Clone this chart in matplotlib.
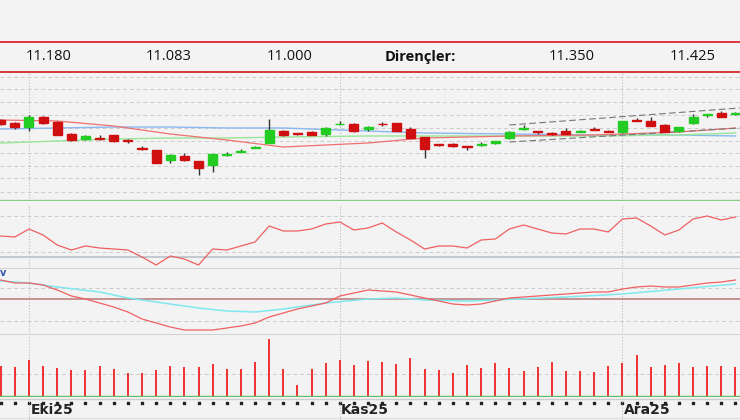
import matplotlib.pyplot as plt
from matplotlib.patches import Rectangle

# candle data (open, close, high, low)
opens = [11.30, 11.27, 11.23, 11.33, 11.28, 11.16, 11.11, 11.12, 11.15, 11.095, 11.015, 11.00, 10.90, 10.94, 10.89, 10.85, 10.955, 10.985,
         11.025, 11.07, 11.19, 11.165, 11.18, 11.16, 11.255, 11.26, 11.21, 11.26, 11.27, 11.21, 11.13, 11.055, 11.06, 11.035, 11.055, 11.07,
         11.12, 11.215, 11.19, 11.17, 11.19, 11.185, 11.21, 11.19, 11.18, 11.30, 11.29, 11.25, 11.19, 11.27, 11.35, 11.37, 11.36]
closes = [11.26, 11.23, 11.33, 11.27, 11.15, 11.10, 11.14, 11.11, 11.09, 11.09, 11.01, 10.87, 10.95, 10.90, 10.82, 10.96, 10.96, 10.99,
          11.03, 11.20, 11.15, 11.16, 11.15, 11.22, 11.26, 11.19, 11.225, 11.255, 11.19, 11.12, 11.01, 11.05, 11.04, 11.03, 11.06, 11.085,
          11.18, 11.22, 11.185, 11.165, 11.16, 11.19, 11.205, 11.185, 11.29, 11.295, 11.24, 11.18, 11.23, 11.33, 11.355, 11.33, 11.365]
highs = [11.31, 11.28, 11.35, 11.34, 11.29, 11.17, 11.15, 11.15, 11.15, 11.11, 11.04, 11.00, 10.96, 10.97, 10.89, 10.96, 10.98, 11.01,
         11.04, 11.31, 11.20, 11.17, 11.19, 11.23, 11.29, 11.27, 11.24, 11.28, 11.27, 11.23, 11.13, 11.06, 11.07, 11.04, 11.08, 11.09,
         11.19, 11.25, 11.19, 11.18, 11.22, 11.20, 11.23, 11.20, 11.29, 11.32, 11.33, 11.26, 11.23, 11.36, 11.36, 11.39, 11.38]
lows = [11.25, 11.21, 11.19, 11.26, 11.15, 11.09, 11.10, 11.10, 11.08, 11.07, 11.00, 10.87, 10.87, 10.89, 10.75, 10.78, 10.94, 10.98,
        11.02, 11.07, 11.14, 11.15, 11.15, 11.14, 11.25, 11.18, 11.19, 11.24, 11.19, 11.12, 10.92, 11.04, 11.03, 11.00, 11.04, 11.06,
        11.11, 11.20, 11.16, 11.15, 11.16, 11.18, 11.20, 11.18, 11.17, 11.29, 11.24, 11.18, 11.18, 11.26, 11.33, 11.33, 11.35]

# moving averages, sampled at candle indices
ma_idx = [0, 4, 8, 12, 16, 20, 26, 30, 36, 42, 48, 52]
ma_red = [11.30, 11.29, 11.24, 11.16, 11.10, 11.03, 11.07, 11.12, 11.14, 11.15, 11.18, 11.22]
ma_blue = [11.21, 11.22, 11.23, 11.23, 11.22, 11.22, 11.19, 11.17, 11.16, 11.15, 11.15, 11.14]
ma_green = [11.07, 11.09, 11.11, 11.12, 11.12, 11.13, 11.14, 11.14, 11.14, 11.14, 11.15, 11.17]

# trend channel (start index, end index, start price, end price)
channel = [(36, 52.3, 11.25, 11.42), (36, 52.3, 11.08, 11.22)]

rsi = [60, 59, 67, 61, 51, 46, 50, 48, 47, 46, 39, 31, 40, 37, 31, 47, 46, 50, 54, 70, 65, 65, 67, 72, 74, 66, 68, 73, 64, 56,
       47, 50, 50, 48, 56, 57, 67, 71, 67, 63, 62, 67, 67, 64, 77, 78, 70, 61, 66, 77, 80, 76, 79]
macd = [0.19, 0.16, 0.16, 0.14, 0.09, 0.03, 0.00, -0.04, -0.08, -0.13, -0.20, -0.24, -0.28, -0.31, -0.31, -0.31, -0.29, -0.27,
        -0.24, -0.18, -0.14, -0.10, -0.07, -0.04, 0.03, 0.06, 0.09, 0.08, 0.07, 0.04, 0.01, -0.02, -0.05, -0.06, -0.05, -0.02, 0.01,
        0.02, 0.03, 0.04, 0.05, 0.06, 0.07, 0.07, 0.10, 0.12, 0.13, 0.12, 0.12, 0.14, 0.16, 0.17, 0.19]
sig_idx = [0, 2, 4, 7, 9, 12, 14, 16, 18, 20, 23, 26, 28, 30, 33, 35, 40, 44, 48, 52]
signal = [0.18, 0.16, 0.12, 0.07, 0.01, -0.05, -0.09, -0.12, -0.13, -0.10, -0.04, 0.00, 0.01, -0.01, -0.02, -0.01, 0.02, 0.05, 0.10, 0.15]
volume = [30, 29, 36, 30, 28, 26, 26, 30, 27, 23, 23, 26, 30, 29, 29, 32, 27, 27, 34, 57, 27, 11, 27, 33, 36, 31, 35, 34, 32, 38,
          27, 26, 23, 31, 28, 33, 28, 25, 29, 34, 25, 25, 24, 30, 33, 41, 29, 31, 33, 29, 30, 30, 29]
month_idx = [2, 24, 44]
month_labels = ["Eki25", "Kas25", "Ara25"]
levels = ["11.180", "11.083", "11.000", "Dirençler:", "11.350", "11.425"]
level_x = [49, 169, 290, 420, 572, 693]

W, H = 740, 420
STEP = 14.13
bg = "#f3f3f3"
fig = plt.figure(figsize=(7.4, 4.2), dpi=100, facecolor=bg)


def panel(top, bottom):
    ax = fig.add_axes([0, 1 - bottom / H, 1, (bottom - top) / H], facecolor=bg)
    ax.set_xlim(-0.05, W / STEP - 0.05)
    for s in ax.spines.values():
        s.set_visible(False)
    ax.set_xticks([])
    ax.set_yticks([])
    for m in month_idx:
        ax.axvline(m, color="#bbbbbb", lw=0.8, ls=":")
    return ax


# header
hdr = fig.add_axes([0, 0, 1, 1], facecolor="none")
hdr.set_xlim(0, W)
hdr.set_ylim(H, 0)
hdr.axis("off")
hdr.axhline(42, color="#d9262c", lw=1.3)
hdr.axhline(72, color="#d9262c", lw=1.3)
for t, x in zip(levels, level_x):
    hdr.text(x, 57, t, ha="center", va="center", fontsize=10.5, family="Open Sans",
             fontweight="bold" if t.endswith(":") else "normal", color="#111111")

# price panel
ax = panel(73, 201)
ax.set_ylim(10.49, 11.77)
for g in [11.73, 11.61, 11.48, 11.35, 11.22, 11.09, 10.97, 10.84, 10.72, 10.58]:
    ax.axhline(g, color="#cccccc", lw=0.7, ls=(0, (4, 3)))
ax.axhline(10.50, color="#88cc88", lw=1)
ax.plot(ma_idx, ma_blue, color="#8ab8f0", lw=1)
ax.plot(ma_idx, ma_green, color="#99e699", lw=1)
ax.plot(ma_idx, ma_red, color="#f07070", lw=0.9)
for x0, x1, y0, y1 in channel:
    ax.plot([x0, x1], [y0, y1], color="#777777", lw=0.8, ls=(0, (6, 3)))
for i, (o, c, h, l) in enumerate(zip(opens, closes, highs, lows)):
    col = "#22cc22" if c >= o else "#d01010"
    ax.vlines(i, l, h, color="#333333", lw=1)
    hb = max(abs(c - o), 0.008)
    ax.add_patch(Rectangle((i - 0.32, min(o, c)), 0.64, hb, facecolor=col, edgecolor=col, zorder=3))

# RSI panel
ax = panel(205, 269)
ax.set_ylim(27, 91)
for g in [80, 44]:
    ax.axhline(g, color="#cccccc", lw=0.7, ls=(0, (4, 3)))
ax.axhline(39, color="#bfc6cf", lw=1.3)
ax.axhline(27.5, color="#cccccc", lw=1.2)
ax.plot(range(len(rsi)), rsi, color="#f06060", lw=0.9)

# MACD panel
ax = panel(270, 335)
ax.set_ylim(-0.36, 0.29)
for g in [0.11, -0.22]:
    ax.axhline(g, color="#cccccc", lw=0.7, ls=(0, (4, 3)))
ax.axhline(0, color="#c08080", lw=1.2)
ax.axhline(-0.355, color="#cccccc", lw=1.2)
ax.plot(sig_idx, signal, color="#7fe8ee", lw=1.1)
ax.plot(range(len(macd)), macd, color="#f06060", lw=0.9)
ax.text(-0.05, 0.26, "v", color="#3355aa", fontsize=7, fontweight="bold", va="center")

# volume panel
ax = panel(336, 397)
ax.set_ylim(-1, 60)
ax.axhline(22, color="#cccccc", lw=0.7, ls=(0, (4, 3)))
ax.vlines(range(len(volume)), 0, volume, color="#ee2222", lw=1.3)
ax.axhline(0, color="#66bb66", lw=1)

# date axis
ax = panel(397, 420)
ax.set_ylim(0, 23)
ax.axhline(21.5, color="#cccccc", lw=1)
ax.scatter(range(len(volume)), [17] * len(volume), marker="s", s=3, color="#222222")
for m, lab in zip(month_idx, month_labels):
    ax.text(m + 0.1, 10, lab, fontsize=10, fontweight="bold", va="center", color="#222222")
ax.axhline(2, color="#dddddd", lw=0.8)

fig.savefig("out.png", dpi=100, facecolor=bg)
